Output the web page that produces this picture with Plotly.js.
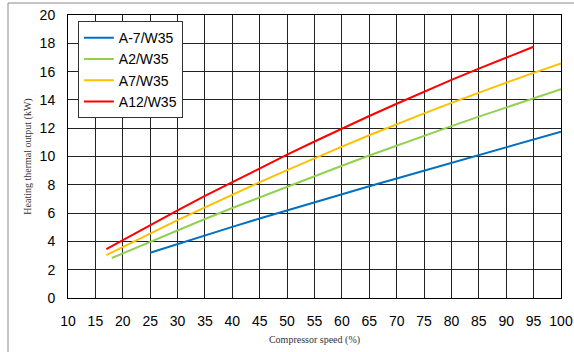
<!DOCTYPE html>
<html>
<head>
<meta charset="utf-8">
<script src="https://cdn.plot.ly/plotly-3.0.1.min.js"></script>
<style>html,body{margin:0;padding:0;background:#fff}#chart{width:574px;height:352px}</style>
</head>
<body>
<div id="chart"></div>
<script>
const seriesNames = ["A-7/W35", "A2/W35", "A7/W35", "A12/W35"];
const seriesColors = ["#0070C0", "#92D050", "#FFC000", "#FF0000"];

const xBlue = [25, 30, 35, 40, 45, 50, 55, 60, 65, 70, 75, 80, 85, 90, 95, 100];
const yBlue = [3.2, 3.82, 4.43, 5.03, 5.62, 6.2, 6.77, 7.34, 7.9, 8.45, 9.0, 9.54, 10.08, 10.62, 11.18, 11.75];

const xGreen = [18, 20, 25, 30, 35, 40, 45, 50, 55, 60, 65, 70, 75, 80, 85, 90, 95, 100];
const yGreen = [2.83, 3.16, 3.98, 4.78, 5.58, 6.36, 7.12, 7.88, 8.62, 9.35, 10.07, 10.78, 11.47, 12.15, 12.82, 13.47, 14.12, 14.75];

const xOrange = [17, 20, 25, 30, 35, 40, 45, 50, 55, 60, 65, 70, 75, 80, 85, 90, 95, 100];
const yOrange = [3.03, 3.61, 4.56, 5.5, 6.41, 7.31, 8.19, 9.04, 9.88, 10.7, 11.5, 12.29, 13.05, 13.79, 14.52, 15.22, 15.91, 16.58];

const xRed = [17, 20, 25, 30, 35, 40, 45, 50, 55, 60, 65, 70, 75, 80, 85, 90, 95];
const yRed = [3.45, 4.09, 5.15, 6.19, 7.21, 8.2, 9.18, 10.13, 11.06, 11.97, 12.86, 13.73, 14.58, 15.41, 16.21, 16.99, 17.76];

const xs = [xBlue, xGreen, xOrange, xRed];
const ys = [yBlue, yGreen, yOrange, yRed];

const traces = seriesNames.map((n, i) => ({
  x: xs[i], y: ys[i], name: n, type: "scatter", mode: "lines",
  line: {color: seriesColors[i], width: 2}
}));

const layout = {
  width: 574, height: 352,
  margin: {l: 68, r: 13, t: 15, b: 54},
  paper_bgcolor: "#fff", plot_bgcolor: "#fff",
  showlegend: true,
  legend: {
    x: 0.02, y: 0.978, xanchor: "left", yanchor: "top",
    bgcolor: "#fff", bordercolor: "#333", borderwidth: 1,
    font: {family: "Liberation Sans, Arial, sans-serif", size: 14, color: "#000"},
    itemwidth: 30, tracegroupgap: 0
  },
  xaxis: {
    range: [10, 100], dtick: 5, tick0: 10,
    showgrid: true, gridcolor: "#222", gridwidth: 1,
    showline: true, linecolor: "#000", linewidth: 1, mirror: true,
    zeroline: false, ticks: "", ticklabelstandoff: 10,
    tickfont: {family: "Liberation Sans, Arial, sans-serif", size: 14, color: "#000"},
    title: {text: "Compressor speed (%)", font: {family: "Liberation Serif, serif", size: 10, color: "#333"}, standoff: 8}
  },
  yaxis: {
    range: [0, 20], dtick: 2, tick0: 0,
    showgrid: true, gridcolor: "#222", gridwidth: 1,
    showline: true, linecolor: "#000", linewidth: 1, mirror: true,
    zeroline: false, ticks: "", ticklabelstandoff: 9,
    tickfont: {family: "Liberation Sans, Arial, sans-serif", size: 14, color: "#000"},
    title: {text: "Heating thermal output (kW)", font: {family: "Liberation Serif, serif", size: 10, color: "#333"}, standoff: 6}
  },
  shapes: [
    {type: "line", xref: "paper", yref: "paper", x0: -0.1217, x1: -0.1217, y0: -0.3, y1: 1.0424, line: {color: "#8a8a8a", width: 1}},
    {type: "line", xref: "paper", yref: "paper", x0: -0.1217, x1: 1.1, y0: 1.0424, y1: 1.0424, line: {color: "#8a8a8a", width: 1}}
  ]
};

Plotly.newPlot("chart", traces, layout, {displayModeBar: false, staticPlot: true});
</script>
</body>
</html>
